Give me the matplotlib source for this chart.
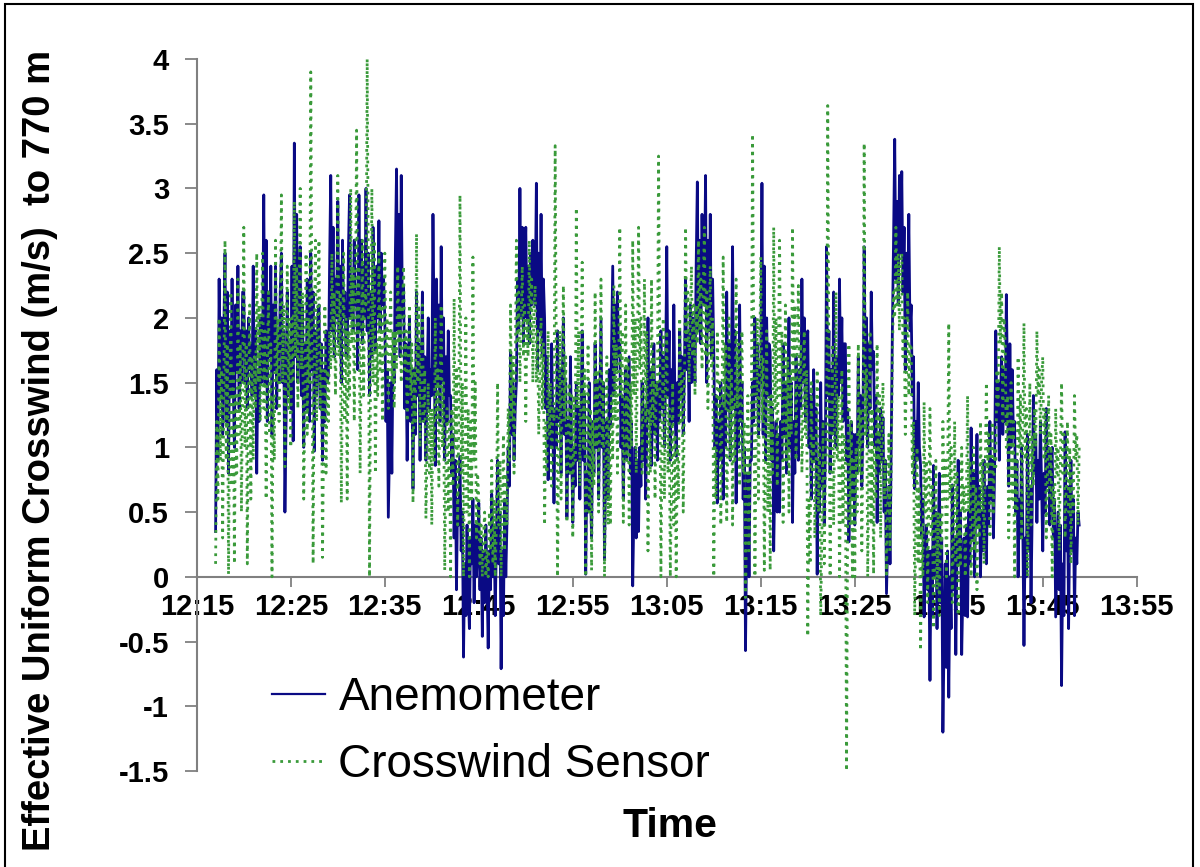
import datetime as dt
import numpy as np
import matplotlib
matplotlib.use('Agg')
import matplotlib.pyplot as plt
import matplotlib.dates as mdates
from matplotlib.patches import Rectangle

# readings every 7.5 s, one row per minute, starting 12:17
start_time = dt.datetime(2000, 1, 1, 12, 17)
anemometer = [
    [0.35, 1.6, 0.9, 2.3, 1.4, 2.0, 1.1, 1.9], [2.5, 1.2, 2.2, 0.8, 1.9, 1.4, 2.3, 1.5],
    [1.0, 2.1, 1.6, 2.4, 1.3, 1.9, 1.5, 2.2], [2.2, 1.5, 1.9, 1.3, 2.0, 1.6, 1.8, 1.4],
    [2.4, 1.4, 1.9, 0.8, 1.6, 1.2, 2.0, 1.5], [1.8, 2.95, 1.5, 2.6, 1.2, 2.2, 1.7, 2.4],
    [1.1, 2.1, 1.6, 2.4, 1.3, 1.9, 1.5, 2.2], [2.5, 1.5, 1.9, 0.5, 1.2, 2.2, 1.4, 1.8],
    [1.3, 2.4, 1.05, 3.35, 1.7, 2.8, 1.5, 2.2], [2.55, 1.4, 2.1, 1.0, 1.8, 1.3, 2.3, 1.6],
    [1.2, 2.5, 1.6, 2.2, 0.97, 1.9, 1.4, 2.0], [2.1, 1.3, 1.8, 0.9, 1.6, 1.2, 1.9, 1.5],
    [1.55, 2.4, 3.1, 1.9, 2.7, 1.7, 2.3, 2.0], [2.9, 1.8, 2.4, 1.5, 2.6, 2.0, 2.2, 1.7],
    [1.7, 2.5, 2.95, 2.0, 2.3, 1.9, 2.6, 2.1], [2.2, 1.6, 2.95, 1.9, 2.6, 1.8, 2.4, 2.0],
    [3.0, 1.9, 2.5, 1.4, 2.2, 1.7, 2.7, 2.0], [1.75, 2.4, 2.0, 2.75, 1.9, 2.5, 2.1, 2.3],
    [2.0, 1.2, 1.6, 0.46, 1.0, 1.5, 0.8, 1.7], [1.5, 2.5, 3.15, 1.9, 2.8, 1.7, 3.1, 2.0],
    [2.25, 1.3, 1.8, 0.9, 1.5, 2.0, 1.2, 1.6], [0.68, 1.6, 1.1, 2.2, 1.4, 1.8, 0.9, 1.5],
    [2.2, 1.2, 1.7, 0.9, 1.5, 2.0, 1.3, 1.6], [1.4, 2.8, 1.9, 0.86, 2.3, 1.5, 2.1, 1.2],
    [2.55, 1.5, 2.0, 0.9, 1.7, 1.2, 1.9, 1.4], [1.4, 0.8, 1.1, 0.3, 0.9, -0.1, 0.6, 0.4],
    [0.93, 0.2, 0.5, -0.62, 0.1, -0.3, 0.4, -0.1], [-0.4, 0.3, 0.1, 0.6, -0.2, 0.4, 0.0, 0.2],
    [0.57, -0.1, 0.3, -0.46, 0.2, -0.2, 0.4, 0.0], [-0.55, 0.2, -0.1, 0.64, 0.0, 0.4, -0.3, 0.3],
    [0.9, 0.1, 0.5, -0.71, 0.2, -0.3, 0.6, 0.0], [0.42, 1.0, 0.7, 1.74, 1.1, 1.5, 0.9, 1.3],
    [1.5, 2.3, 1.9, 3.0, 2.0, 2.7, 1.8, 2.4], [2.7, 2.0, 2.4, 1.8, 2.5, 2.1, 2.6, 2.2],
    [2.1, 3.04, 1.6, 2.5, 1.9, 2.8, 1.7, 2.3], [2.0, 1.3, 1.7, 0.75, 1.4, 1.0, 1.8, 1.2],
    [0.57, 1.3, 1.0, 1.9, 1.2, 1.6, 0.8, 1.5], [2.0, 1.1, 1.5, 0.46, 1.2, 0.8, 1.7, 1.0],
    [0.42, 1.0, 0.7, 1.5, 0.9, 1.3, 0.6, 1.2], [1.9, 0.9, 1.4, 0.02, 0.8, 0.5, 1.5, 0.7],
    [0.3, 1.2, 0.8, 1.8, 1.0, 1.5, 0.6, 1.3], [2.0, 1.0, 1.5, 0.13, 0.9, 1.2, 0.6, 1.6],
    [1.15, 1.8, 2.4, 1.4, 2.1, 1.6, 2.2, 1.7], [1.8, 1.0, 1.4, 0.6, 1.2, 1.6, 0.9, 1.3],
    [1.7, 0.8, 1.2, -0.07, 0.5, 1.0, 0.3, 0.9], [0.35, 1.0, 0.7, 1.5, 0.9, 1.3, 0.6, 1.1],
    [2.0, 1.2, 1.6, 0.86, 1.4, 1.8, 1.1, 1.5], [0.9, 1.5, 1.2, 1.9, 1.3, 1.7, 1.0, 1.6],
    [2.55, 1.4, 1.9, 0.9, 1.6, 1.2, 2.1, 1.3], [0.93, 1.5, 1.2, 1.9, 1.4, 1.7, 1.1, 1.6],
    [2.3, 1.6, 1.9, 1.2, 2.1, 1.5, 2.0, 1.7], [1.5, 2.4, 3.05, 1.9, 2.6, 1.8, 2.8, 2.1],
    [2.2, 3.1, 1.5, 2.6, 1.9, 2.8, 1.7, 2.3], [1.74, 1.0, 1.4, 0.57, 1.2, 0.9, 1.5, 1.1],
    [0.6, 1.4, 1.0, 2.2, 1.3, 1.8, 0.9, 1.6], [2.55, 1.3, 1.9, 0.57, 1.5, 1.0, 2.1, 1.2],
    [1.5, 0.6, 1.0, -0.57, 0.3, 0.8, 0.0, 0.9], [0.9, 1.5, 1.2, 2.0, 1.4, 1.8, 1.1, 1.6],
    [1.5, 3.04, 1.1, 2.4, 0.9, 2.0, 1.4, 1.8], [1.74, 0.9, 1.3, 0.2, 0.8, 1.2, 0.5, 1.1],
    [0.5, 1.2, 0.9, 1.8, 1.1, 1.5, 0.8, 1.3], [2.0, 1.0, 1.5, 0.42, 1.2, 0.8, 1.7, 1.1],
    [0.9, 1.6, 1.3, 2.3, 1.5, 2.0, 1.2, 1.7], [1.9, 1.0, 1.4, 0.6, 1.2, 1.6, 0.9, 1.3],
    [0.02, 0.9, 0.5, 1.5, 0.7, 1.2, 0.4, 1.0], [2.55, 1.4, 1.9, 0.8, 1.6, 1.1, 2.2, 1.3],
    [1.0, 1.7, 1.4, 2.3, 1.5, 2.0, 1.2, 1.8], [1.8, 0.9, 1.3, 0.27, 0.8, 1.2, 0.6, 1.1],
    [0.4, 1.1, 0.8, 1.7, 1.0, 1.4, 0.7, 1.2], [2.55, 1.5, 2.0, 1.0, 1.8, 1.3, 2.2, 1.6],
    [1.74, 1.0, 1.4, 0.42, 1.1, 0.8, 1.3, 0.9], [1.23, 0.5, 0.9, -0.13, 0.3, 0.7, 0.1, 1.0],
    [1.9, 2.6, 3.38, 2.3, 2.9, 2.1, 3.1, 2.5], [3.13, 2.2, 2.7, 1.6, 2.5, 2.0, 2.8, 1.9],
    [2.1, 1.4, 1.7, 0.68, 1.2, 0.9, 1.5, 1.0], [0.86, 0.3, 0.6, -0.31, 0.1, 0.4, -0.1, 0.2],
    [-0.8, 0.2, -0.3, 0.86, 0.0, 0.5, -0.4, 0.3], [0.8, -0.2, 0.3, -1.2, -0.5, 0.1, -0.7, 0.2],
    [-0.93, 0.0, -0.4, 0.71, -0.1, 0.3, -0.6, 0.2], [0.9, 0.1, 0.5, -0.6, -0.1, 0.3, -0.3, 0.4],
    [-0.31, 0.5, 0.1, 1.15, 0.3, 0.8, 0.0, 0.6], [1.1, 0.4, 0.7, 0.0, 0.5, 0.2, 0.9, 0.3],
    [0.1, 0.7, 0.4, 1.2, 0.6, 0.9, 0.3, 0.8], [1.9, 1.2, 1.5, 0.9, 1.4, 1.7, 1.1, 1.6],
    [1.2, 2.18, 1.5, 0.7, 1.8, 1.0, 1.6, 1.1], [1.2, 0.5, 0.9, 0.0, 0.6, 0.3, 1.0, 0.4],
    [-0.53, 0.3, 0.0, 1.1, 0.2, 0.7, -0.2, 0.5], [1.4, 0.8, 1.1, 0.42, 0.9, 0.6, 1.2, 0.7],
    [0.2, 0.8, 0.5, 1.3, 0.7, 1.0, 0.4, 0.9], [1.0, 0.3, 0.6, -0.31, 0.1, 0.5, -0.1, 0.4],
    [-0.84, 0.1, -0.3, 1.12, 0.2, 0.7, -0.4, 0.5], [0.9, 0.2, 0.6, -0.3, 0.3, 0.1, 0.5, 0.4],
]
crosswind_sensor = [
    [0.1, 1.2, 0.6, 2.0, 0.9, 1.6, 0.3, 1.4], [2.6, 0.9, 1.8, 0.02, 1.3, 2.2, 0.7, 1.6],
    [0.1, 1.4, 0.8, 2.3, 1.1, 1.8, 0.5, 1.5], [2.7, 1.0, 1.8, 0.1, 1.4, 2.1, 0.6, 1.7],
    [0.9, 1.7, 1.3, 2.5, 1.5, 2.1, 1.2, 1.9], [2.5, 1.3, 1.9, 0.6, 1.6, 2.2, 1.1, 1.8],
    [0.0, 1.4, 0.9, 2.6, 1.5, 2.0, 1.2, 1.8], [2.95, 1.5, 2.1, 0.85, 1.7, 2.4, 1.3, 2.0],
    [1.0, 2.0, 1.5, 2.9, 1.7, 2.4, 1.3, 2.2], [3.0, 1.6, 2.2, 0.6, 1.4, 2.5, 1.1, 2.0],
    [1.5, 3.9, 2.0, 0.1, 1.8, 2.6, 1.2, 2.2], [2.6, 1.3, 1.8, 0.15, 1.1, 2.1, 0.8, 1.6],
    [1.2, 1.9, 1.6, 2.5, 1.7, 2.2, 1.4, 2.0], [3.1, 1.7, 2.2, 0.57, 1.5, 2.5, 1.2, 2.0],
    [0.6, 1.9, 1.4, 3.0, 1.8, 2.4, 1.2, 2.1], [3.45, 1.8, 2.4, 0.8, 1.7, 2.6, 1.4, 2.2],
    [2.1, 4.0, 2.4, 0.0, 1.8, 3.0, 1.5, 2.6], [0.8, 1.8, 1.4, 2.5, 1.6, 2.1, 1.2, 1.9],
    [2.5, 1.7, 2.0, 1.3, 1.8, 2.2, 1.5, 1.9], [1.3, 1.9, 1.6, 2.4, 1.8, 2.1, 1.5, 2.0],
    [2.4, 1.6, 1.9, 1.2, 1.7, 2.1, 1.4, 1.8], [0.57, 1.6, 1.2, 2.65, 1.5, 2.1, 1.0, 1.8],
    [2.1, 1.2, 1.6, 0.45, 1.0, 1.5, 0.8, 1.3], [0.4, 1.3, 0.9, 2.0, 1.2, 1.6, 0.7, 1.4],
    [2.1, 1.0, 1.5, 0.05, 0.8, 1.3, 0.5, 1.2], [0.0, 1.3, 0.7, 2.15, 1.0, 1.6, 0.4, 1.2],
    [2.95, 0.8, 1.5, 0.0, 1.1, 2.0, 0.5, 1.3], [0.0, 1.2, 0.6, 2.47, 0.9, 1.5, 0.3, 0.8],
    [0.6, 0.1, 0.4, 0.0, 0.3, 0.5, 0.0, 0.2], [0.0, 0.5, 0.2, 0.9, 0.1, 0.6, 0.0, 0.4],
    [1.5, 0.4, 0.9, 0.0, 0.6, 1.1, 0.2, 0.8], [0.4, 1.3, 0.9, 2.1, 1.2, 1.7, 0.8, 1.5],
    [2.6, 1.8, 2.2, 1.5, 2.0, 2.4, 1.7, 2.1], [1.2, 2.0, 1.7, 2.6, 1.8, 2.3, 1.5, 2.1],
    [2.25, 1.5, 1.9, 1.1, 1.6, 2.0, 1.3, 1.8], [0.4, 1.2, 0.8, 1.9, 1.1, 1.5, 0.7, 1.3],
    [1.2, 3.33, 1.6, 0.0, 1.0, 1.9, 0.6, 1.5], [2.25, 1.2, 1.7, 0.42, 1.0, 1.5, 0.8, 1.4],
    [0.3, 1.4, 0.9, 2.85, 1.3, 1.9, 0.7, 1.6], [2.43, 1.0, 1.6, 0.0, 0.9, 1.8, 0.5, 1.3],
    [0.05, 1.2, 0.7, 2.2, 1.0, 1.6, 0.5, 1.4], [2.3, 1.0, 1.5, 0.0, 0.8, 1.7, 0.4, 1.2],
    [0.4, 1.4, 0.9, 2.25, 1.2, 1.8, 0.8, 1.5], [2.7, 1.4, 1.9, 0.42, 1.2, 2.1, 0.9, 1.7],
    [0.4, 1.5, 1.0, 2.6, 1.4, 2.0, 0.8, 1.7], [2.7, 1.6, 2.0, 0.8, 1.4, 2.3, 1.2, 1.9],
    [0.2, 1.3, 0.8, 2.3, 1.2, 1.7, 0.6, 1.5], [1.4, 3.25, 1.7, 0.0, 1.1, 2.0, 0.6, 1.5],
    [1.9, 0.8, 1.3, 0.0, 0.7, 1.5, 0.4, 1.1], [0.0, 1.0, 0.6, 2.0, 1.2, 1.6, 0.5, 1.4],
    [2.7, 1.8, 2.2, 1.5, 2.0, 2.4, 1.7, 2.1], [1.4, 2.1, 1.8, 2.6, 1.9, 2.3, 1.6, 2.2],
    [2.7, 1.7, 2.2, 1.3, 1.9, 2.4, 1.6, 2.0], [0.0, 1.0, 0.6, 1.9, 1.2, 1.5, 0.4, 1.3],
    [2.47, 1.3, 1.8, 0.42, 1.1, 2.0, 0.9, 1.6], [0.4, 1.4, 0.9, 2.3, 1.3, 1.8, 0.7, 1.6],
    [1.9, 0.8, 1.2, -0.16, 0.4, 1.4, 0.2, 1.0], [1.2, 3.42, 1.8, 0.0, 1.0, 2.0, 0.6, 1.6],
    [2.47, 1.2, 1.7, 0.05, 0.9, 1.9, 0.5, 1.4], [0.05, 1.4, 0.8, 2.7, 1.3, 2.0, 0.7, 1.7],
    [2.6, 1.4, 1.9, 0.42, 1.2, 2.1, 0.9, 1.7], [0.5, 1.6, 1.1, 2.7, 1.5, 2.1, 0.9, 1.8],
    [2.25, 1.4, 1.8, 0.8, 1.3, 1.9, 1.1, 1.6], [-0.46, 0.6, 0.1, 1.5, 0.8, 1.1, 0.3, 0.9],
    [1.6, 0.5, 1.0, -0.3, 0.3, 1.2, 0.1, 0.8], [1.0, 3.64, 1.5, 0.0, 0.9, 1.8, 0.4, 1.3],
    [2.2, 0.9, 1.4, 0.0, 0.7, 1.6, 0.4, 1.1], [1.0, -1.5, 0.6, 1.8, 0.4, 1.2, 0.0, 0.9],
    [0.0, 1.0, 0.5, 1.8, 0.8, 1.3, 0.2, 1.1], [3.35, 1.1, 1.6, 0.0, 0.8, 1.9, 0.4, 1.3],
    [0.02, 1.0, 0.6, 1.8, 0.9, 1.4, 0.3, 1.2], [1.5, 0.6, 0.9, 0.02, 0.5, 1.1, 0.2, 0.8],
    [1.7, 2.2, 2.0, 2.7, 2.1, 2.5, 1.9, 2.4], [2.5, 1.7, 2.0, 1.1, 1.6, 2.2, 1.4, 1.8],
    [1.8, 0.8, 1.2, -0.3, 0.4, 1.0, 0.1, 0.7], [-0.57, 0.4, 0.0, 1.35, 0.5, 0.9, -0.2, 0.6],
    [1.3, 0.3, 0.7, -0.4, 0.1, 0.9, -0.1, 0.5], [-0.3, 0.5, 0.2, 1.2, 0.6, 0.9, 0.0, 0.7],
    [1.96, 0.6, 1.0, -0.2, 0.3, 1.2, 0.1, 0.8], [-0.3, 0.4, 0.1, 1.0, 0.5, 0.7, 0.0, 0.6],
    [1.4, 0.5, 0.9, 0.0, 0.4, 1.0, 0.2, 0.7], [-0.1, 0.6, 0.3, 1.2, 0.5, 0.9, 0.1, 0.8],
    [1.5, 0.8, 1.1, 0.3, 0.7, 1.2, 0.5, 1.0], [0.85, 1.6, 1.3, 2.55, 1.8, 2.2, 1.2, 2.0],
    [1.8, 1.0, 1.4, 0.3, 0.8, 1.5, 0.6, 1.2], [0.0, 0.9, 0.5, 1.7, 1.0, 1.4, 0.3, 1.1],
    [1.96, 0.9, 1.3, 0.0, 0.7, 1.5, 0.4, 1.1], [0.7, 1.3, 1.0, 1.9, 1.4, 1.6, 1.1, 1.5],
    [1.7, 0.9, 1.3, 0.3, 0.8, 1.4, 0.6, 1.1], [0.0, 0.7, 0.4, 1.3, 0.8, 1.0, 0.2, 0.9],
    [1.5, 0.8, 1.1, 0.3, 0.7, 1.2, 0.5, 1.0], [0.1, 0.8, 0.5, 1.4, 0.9, 1.1, 0.4, 1.0],
]
y_ticks = [-1.5, -1, -0.5, 0, 0.5, 1, 1.5, 2, 2.5, 3, 3.5, 4]
y_tick_labels = ['-1.5', '-1', '-0.5', '0', '0.5', '1', '1.5', '2', '2.5', '3', '3.5', '4']

anem = np.array(anemometer).ravel()
cross = np.array(crosswind_sensor).ravel()
times = [start_time + dt.timedelta(seconds=7.5 * k) for k in range(len(anem))]

plt.rcParams['font.family'] = ['Liberation Sans', 'DejaVu Sans']

fig = plt.figure(figsize=(12, 8.67), dpi=100)
ax = fig.add_axes([0.164, 0.1107, 0.7833, 0.8213])

ax.plot(times, anem, color='#0a0a84', lw=2.0, zorder=3, label='Anemometer')
ax.plot(times, cross, color='#3a9a3a', lw=2.0, ls=(0, (1.0, 1.8)), zorder=4,
        label='Crosswind Sensor')

ax.set_xlim(dt.datetime(2000, 1, 1, 12, 15), dt.datetime(2000, 1, 1, 13, 55))
ax.set_ylim(-1.5, 4)
ax.xaxis.set_major_locator(mdates.MinuteLocator(byminute=[5, 15, 25, 35, 45, 55]))
ax.xaxis.set_major_formatter(mdates.DateFormatter('%H:%M'))
ax.set_yticks(y_ticks, y_tick_labels)

ax.set_axisbelow(True)
for s in ['top', 'right']:
    ax.spines[s].set_visible(False)
ax.spines['bottom'].set_position(('data', 0))
for s in ['left', 'bottom']:
    ax.spines[s].set_color('#808080')
    ax.spines[s].set_linewidth(1.5)
    ax.spines[s].set_zorder(1)
ax.tick_params(axis='y', direction='out', length=9, width=1.3, color='#808080', pad=11,
               labelsize=21)
ax.tick_params(axis='x', direction='out', length=7, width=1.3, color='#808080', pad=5,
               labelsize=21)
for lab in ax.get_xticklabels() + ax.get_yticklabels():
    lab.set_fontweight('bold')

leg = ax.legend(loc='upper left', bbox_to_anchor=(272 / 1200, 1 - 676 / 867),
                bbox_transform=fig.transFigure, frameon=False, fontsize=33,
                handlelength=1.15, handletextpad=0.3, labelspacing=0.5,
                borderpad=0, borderaxespad=0)
leg.get_lines()[0].set_linewidth(1.6)

fig.text(40 / 1200, 1 - 450 / 867, 'Effective Uniform Crosswind (m/s)  to 770 m',
         rotation=90, ha='center', va='center', fontsize=27.5, fontweight='bold')
fig.text(670 / 1200, 1 - 826 / 867, 'Time', ha='center', va='center',
         fontsize=29.5, fontweight='bold')

fig.patches.append(Rectangle((5 / 1200, -0.05), 1188 / 1200, 1.05 - 4 / 867,
                             transform=fig.transFigure, fill=False,
                             edgecolor='black', lw=1.5))

fig.savefig('out.png', dpi=100)
